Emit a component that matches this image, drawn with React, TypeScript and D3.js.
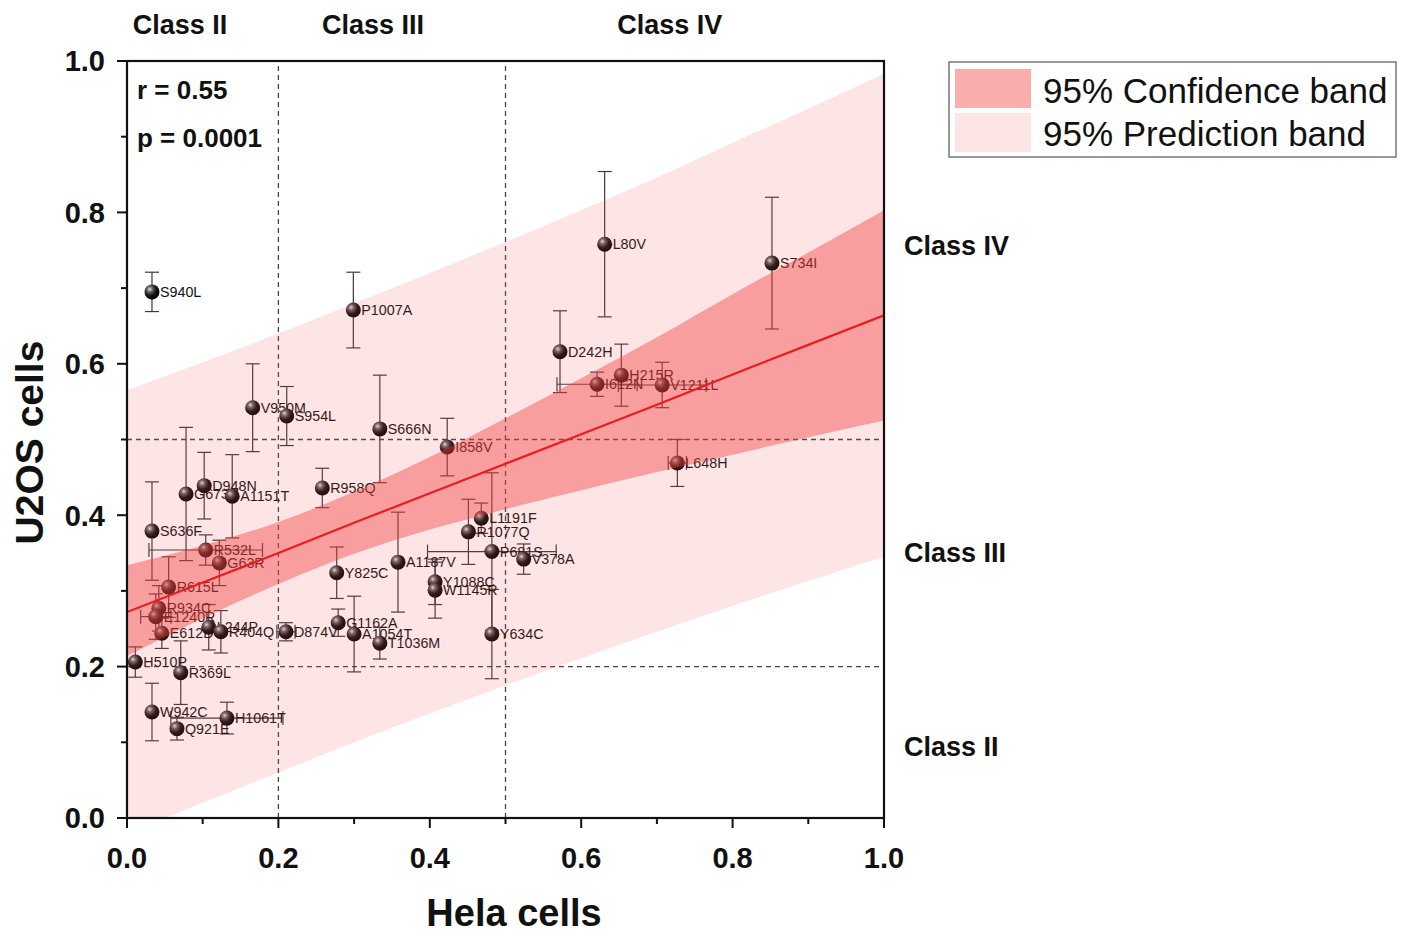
import React from "react";
import * as d3 from "d3";

// variants: Hela (x) vs U2OS (y) normalised activity
const names = [
  "S940L", "P1007A", "L80V", "S734I", "D242H", "H215R", "I612N", "V1211L", "L648H",
  "V950M", "S954L", "S666N", "I858V", "R958Q", "D948N", "G673V", "A1151T", "S636F",
  "R532L", "G63R", "R615L", "R934C", "E1240R", "E612D", "L244P", "R404Q", "D874V",
  "H510P", "R369L", "W942C", "Q921E", "H1061T", "G1162A", "A1054T", "T1036M", "Y825C",
  "A1187V", "Y1088C", "W1145R", "L1191F", "R1077Q", "P681S", "Y634C", "V378A",
];
const hela = [
  0.033, 0.299, 0.631, 0.852, 0.572, 0.653, 0.621, 0.707, 0.727,
  0.166, 0.211, 0.334, 0.423, 0.258, 0.102, 0.078, 0.139, 0.033,
  0.104, 0.122, 0.055, 0.042, 0.038, 0.046, 0.108, 0.124, 0.21,
  0.011, 0.071, 0.033, 0.066, 0.132, 0.279, 0.3, 0.334, 0.277,
  0.358, 0.407, 0.407, 0.468, 0.451, 0.482, 0.482, 0.524,
];
const u2os = [
  0.695, 0.671, 0.758, 0.733, 0.616, 0.585, 0.573, 0.572, 0.469,
  0.542, 0.531, 0.514, 0.49, 0.436, 0.439, 0.428, 0.425, 0.379,
  0.354, 0.337, 0.305, 0.277, 0.266, 0.244, 0.252, 0.246, 0.246,
  0.206, 0.192, 0.14, 0.118, 0.132, 0.258, 0.243, 0.231, 0.324,
  0.338, 0.312, 0.301, 0.396, 0.378, 0.352, 0.243, 0.342,
];
const u2osErr = [
  0.026, 0.05, 0.096, 0.087, 0.054, 0.041, 0.016, 0.03, 0.031,
  0.058, 0.039, 0.071, 0.038, 0.026, 0.044, 0.088, 0.055, 0.065,
  0.02, 0.03, 0.04, 0.03, 0.03, 0.02, 0.03, 0.028, 0.012,
  0.02, 0.042, 0.038, 0.015, 0.021, 0.018, 0.05, 0.021, 0.034,
  0.066, 0.03, 0.037, 0.02, 0.043, 0.104, 0.059, 0.02,
];
const helaErr = [
  0, 0, 0, 0, 0, 0, 0.053, 0.058, 0.012,
  0, 0, 0, 0, 0, 0, 0, 0, 0,
  0.075, 0, 0, 0, 0.02, 0, 0, 0, 0.012,
  0, 0, 0, 0, 0.074, 0, 0, 0, 0,
  0, 0, 0, 0, 0, 0.085, 0, 0,
];

// fit line and bands, read at x = 0, 0.1 ... 1.0
const bandX = [0, 0.1, 0.2, 0.3, 0.4, 0.5, 0.6, 0.7, 0.8, 0.9, 1.0];
const fitY = [0.272, 0.311, 0.35, 0.39, 0.429, 0.468, 0.507, 0.546, 0.586, 0.625, 0.664];
const confHi = [0.334, 0.36, 0.391, 0.431, 0.477, 0.528, 0.581, 0.635, 0.692, 0.747, 0.803];
const confLo = [0.214, 0.264, 0.309, 0.349, 0.381, 0.408, 0.433, 0.457, 0.48, 0.503, 0.525];
const predHi = [0.565, 0.602, 0.64, 0.68, 0.72, 0.761, 0.803, 0.846, 0.892, 0.937, 0.983];
const predLo = [-0.021, 0.02, 0.06, 0.1, 0.138, 0.175, 0.211, 0.246, 0.28, 0.313, 0.345];

const xCuts = [0.2, 0.5];
const yCuts = [0.2, 0.5];
const topClasses = [["Class II", 0.07], ["Class III", 0.325], ["Class IV", 0.717]] as const;
const sideClasses = [["Class IV", 0.757], ["Class III", 0.351], ["Class II", 0.095]] as const;

const FONT = "'Liberation Sans', Arial, sans-serif";

export default function App() {
  const W = 1409, H = 936;
  const x = d3.scaleLinear().domain([0, 1]).range([127, 884]);
  const y = d3.scaleLinear().domain([0, 1]).range([818, 61]);
  const major = d3.range(0, 1.0001, 0.2);
  const minor = d3.range(0.1, 1, 0.2);
  const fmt = d3.format(".1f");

  const area = (lo: number[], hi: number[]) =>
    d3.area<number>()
      .x((d) => x(d))
      .y0((d, i) => y(lo[i]))
      .y1((d, i) => y(hi[i]))
      .curve(d3.curveMonotoneX)(bandX) as string;
  const fitPath = d3.line<number>().x((d) => x(d)).y((d, i) => y(fitY[i]))(bandX) as string;

  const [x0, x1] = x.range();
  const [y0, y1] = y.range();

  return (
    <svg width={W} height={H} style={{ position: "absolute", left: 0, top: 0, background: "#fff" }} fontFamily={FONT}>
      <defs>
        <clipPath id="plot">
          <rect x={x0} y={y1} width={x1 - x0} height={y0 - y1} />
        </clipPath>
        <radialGradient id="ball" cx="0.35" cy="0.32" r="0.7">
          <stop offset="0" stopColor="#e8e8e8" />
          <stop offset="0.25" stopColor="#6a6a6a" />
          <stop offset="0.6" stopColor="#151515" />
          <stop offset="1" stopColor="#000" />
        </radialGradient>
      </defs>

      {/* dashed class boundaries */}
      {xCuts.map((v) => (
        <line key={"xc" + v} x1={x(v)} x2={x(v)} y1={y0} y2={y1} stroke="#444" strokeWidth={1.3} strokeDasharray="5,4" />
      ))}
      {yCuts.map((v) => (
        <line key={"yc" + v} x1={x0} x2={x1} y1={y(v)} y2={y(v)} stroke="#444" strokeWidth={1.3} strokeDasharray="5,4" />
      ))}

      {/* points with error bars */}
      <g stroke="#3a3a3a" strokeWidth={1.2}>
        {names.map((n, i) => {
          const cx = x(hela[i]), cy = y(u2os[i]);
          const t = y(u2os[i] + u2osErr[i]), b = y(u2os[i] - u2osErr[i]);
          const l = x(hela[i] - helaErr[i]), r = x(hela[i] + helaErr[i]);
          return (
            <g key={"e" + n}>
              <line x1={cx} x2={cx} y1={t} y2={b} />
              <line x1={cx - 7} x2={cx + 7} y1={t} y2={t} />
              <line x1={cx - 7} x2={cx + 7} y1={b} y2={b} />
              {helaErr[i] > 0 && (
                <>
                  <line x1={l} x2={r} y1={cy} y2={cy} />
                  <line x1={l} x2={l} y1={cy - 7} y2={cy + 7} />
                  <line x1={r} x2={r} y1={cy - 7} y2={cy + 7} />
                </>
              )}
            </g>
          );
        })}
      </g>
      {names.map((n, i) => (
        <g key={"p" + n}>
          <circle cx={x(hela[i])} cy={y(u2os[i])} r={7.5} fill="url(#ball)" />
          <text x={x(hela[i]) + 8} y={y(u2os[i])} dy="0.36em" fontSize={14.3} fill="#111">{n}</text>
        </g>
      ))}

      {/* bands drawn over the points, translucent */}
      <g clipPath="url(#plot)">
        <path d={area(predLo, predHi)} fill="rgb(250,80,80)" fillOpacity={0.15} />
        <path d={area(confLo, confHi)} fill="rgb(240,60,60)" fillOpacity={0.42} />
        <path d={fitPath} fill="none" stroke="#ec1c1c" strokeWidth={2.2} />
      </g>

      {/* frame and ticks */}
      <rect x={x0} y={y1} width={x1 - x0} height={y0 - y1} fill="none" stroke="#111" strokeWidth={2.2} />
      <g stroke="#111" strokeWidth={2}>
        {major.map((v) => (
          <g key={"M" + v}>
            <line x1={x(v)} x2={x(v)} y1={y0} y2={y0 + 10} />
            <line x1={x0} x2={x0 - 10} y1={y(v)} y2={y(v)} />
          </g>
        ))}
        {minor.map((v) => (
          <g key={"m" + v}>
            <line x1={x(v)} x2={x(v)} y1={y0} y2={y0 + 6} />
            <line x1={x0} x2={x0 - 6} y1={y(v)} y2={y(v)} />
          </g>
        ))}
      </g>
      <g fontSize={29} fontWeight="bold" fill="#111">
        {major.map((v) => (
          <text key={"xl" + v} x={x(v)} y={y0 + 40} dy="0.36em" textAnchor="middle">{fmt(v)}</text>
        ))}
        {major.map((v) => (
          <text key={"yl" + v} x={x0 - 22} y={y(v)} dy="0.36em" textAnchor="end">{fmt(v)}</text>
        ))}
      </g>
      <text x={514} y={926} textAnchor="middle" fontSize={38} fontWeight="bold" fill="#111">Hela cells</text>
      <text transform={`translate(29,${(y0 + y1) / 2 + 3}) rotate(-90)`} dy="0.36em" textAnchor="middle" fontSize={39} fontWeight="bold" fill="#111">U2OS cells</text>

      {/* stats */}
      <g fontSize={26} fontWeight="bold" fill="#111">
        <text x={137} y={90} dy="0.36em">r = 0.55</text>
        <text x={137} y={138} dy="0.36em">p = 0.0001</text>
      </g>

      {/* class labels */}
      <g fontSize={27} fontWeight="bold" fill="#111">
        {topClasses.map(([t, v]) => (
          <text key={"tc" + t} x={x(v)} y={24} dy="0.36em" textAnchor="middle">{t}</text>
        ))}
        {sideClasses.map(([t, v]) => (
          <text key={"sc" + t} x={904} y={y(v)} dy="0.36em">{t}</text>
        ))}
      </g>

      {/* legend */}
      <g>
        <rect x={949} y={62} width={447} height={95} fill="#fff" stroke="#777" strokeWidth={1.5} />
        <rect x={955} y={69} width={76} height={39} fill="rgb(240,60,60)" fillOpacity={0.42} />
        <rect x={955} y={113} width={76} height={39} fill="rgb(250,80,80)" fillOpacity={0.15} />
        <text x={1043} y={90} dy="0.36em" fontSize={35} fill="#111">95% Confidence band</text>
        <text x={1043} y={133} dy="0.36em" fontSize={35} fill="#111">95% Prediction band</text>
      </g>
    </svg>
  );
}
